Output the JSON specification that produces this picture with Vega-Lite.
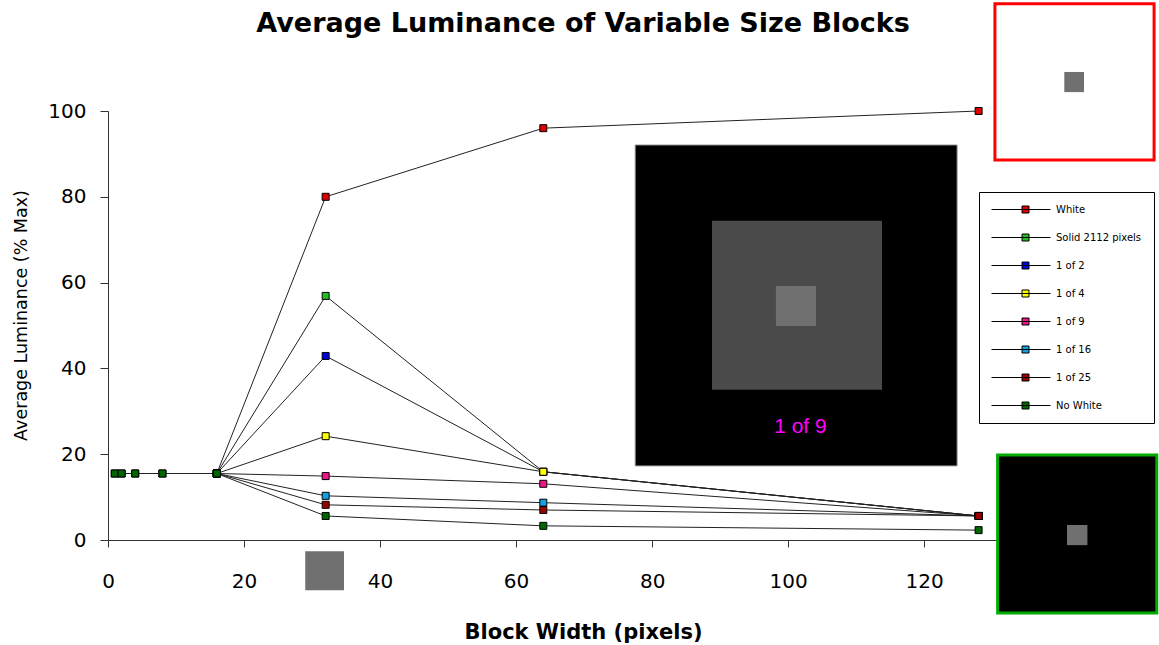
{
  "$schema": "https://vega.github.io/schema/vega-lite/v6.json",
  "autosize": {"type": "none"},
  "width": 891,
  "height": 429,
  "padding": {"left": 108, "top": 111, "right": 160, "bottom": 105},
  "background": "white",
  "config": {
    "view": {"stroke": null},
    "axis": {
      "domainColor": "#333",
      "tickColor": "#333",
      "labelFont": "DejaVu Sans",
      "labelColor": "black",
      "titleColor": "black",
      "grid": false
    }
  },
  "datasets": {
    "lum": [
      {"series": "White", "x": 1, "y": 15.5},
      {"series": "White", "x": 2, "y": 15.5},
      {"series": "White", "x": 4, "y": 15.5},
      {"series": "White", "x": 8, "y": 15.5},
      {"series": "White", "x": 16, "y": 15.5},
      {"series": "White", "x": 32, "y": 80.0},
      {"series": "White", "x": 64, "y": 96.0},
      {"series": "White", "x": 128, "y": 100.0},
      {"series": "Solid 2112 pixels", "x": 16, "y": 15.5},
      {"series": "Solid 2112 pixels", "x": 32, "y": 56.9},
      {"series": "Solid 2112 pixels", "x": 64, "y": 15.9},
      {"series": "Solid 2112 pixels", "x": 128, "y": 5.6},
      {"series": "1 of 2", "x": 16, "y": 15.5},
      {"series": "1 of 2", "x": 32, "y": 42.9},
      {"series": "1 of 2", "x": 64, "y": 15.9},
      {"series": "1 of 2", "x": 128, "y": 5.6},
      {"series": "1 of 4", "x": 16, "y": 15.5},
      {"series": "1 of 4", "x": 32, "y": 24.2},
      {"series": "1 of 4", "x": 64, "y": 15.9},
      {"series": "1 of 4", "x": 128, "y": 5.6},
      {"series": "1 of 9", "x": 16, "y": 15.5},
      {"series": "1 of 9", "x": 32, "y": 14.9},
      {"series": "1 of 9", "x": 64, "y": 13.1},
      {"series": "1 of 9", "x": 128, "y": 5.6},
      {"series": "1 of 16", "x": 16, "y": 15.5},
      {"series": "1 of 16", "x": 32, "y": 10.3},
      {"series": "1 of 16", "x": 64, "y": 8.7},
      {"series": "1 of 16", "x": 128, "y": 5.6},
      {"series": "1 of 25", "x": 16, "y": 15.5},
      {"series": "1 of 25", "x": 32, "y": 8.2},
      {"series": "1 of 25", "x": 64, "y": 7.0},
      {"series": "1 of 25", "x": 128, "y": 5.6},
      {"series": "No White", "x": 1, "y": 15.5},
      {"series": "No White", "x": 2, "y": 15.5},
      {"series": "No White", "x": 4, "y": 15.5},
      {"series": "No White", "x": 8, "y": 15.5},
      {"series": "No White", "x": 16, "y": 15.5},
      {"series": "No White", "x": 32, "y": 5.6},
      {"series": "No White", "x": 64, "y": 3.3},
      {"series": "No White", "x": 128, "y": 2.3}
    ]
  },
  "layer": [
    {
      "data": {"name": "lum"},
      "mark": {"type": "line", "color": "#222", "strokeWidth": 1},
      "encoding": {
        "x": {
          "field": "x", "type": "quantitative",
          "scale": {"domain": [0, 131], "nice": false},
          "axis": {
            "values": [0, 20, 40, 60, 80, 100, 120],
            "title": "Block Width (pixels)",
            "titleFont": "DejaVu Sans",
            "titleFontSize": 21,
            "titleFontWeight": "bold",
            "titleBaseline": "alphabetic",
            "titleX": 475,
            "titleY": 98,
            "labelFontSize": 20,
            "labelPadding": 24,
            "labelFlush": false,
            "tickSize": 7,
            "labelBaseline": "top"
          }
        },
        "y": {
          "field": "y", "type": "quantitative",
          "scale": {"domain": [0, 100], "nice": false},
          "axis": {
            "values": [0, 20, 40, 60, 80, 100],
            "title": "Average Luminance (% Max)",
            "titleFont": "DejaVu Sans",
            "titleFontSize": 17.5,
            "titleFontWeight": "normal",
            "titleAngle": -90,
            "titleBaseline": "alphabetic",
            "titleAlign": "center",
            "titleX": -82,
            "titleY": 204,
            "labelFontSize": 20,
            "labelPadding": 14,
            "labelFlush": false,
            "tickSize": 8
          }
        },
        "detail": {"field": "series"},
        "order": {"field": "x", "type": "quantitative"}
      }
    },
    {
      "data": {"name": "lum"},
      "mark": {"type": "point", "shape": "square", "filled": true, "size": 49, "stroke": "black", "strokeWidth": 1, "opacity": 1},
      "encoding": {
        "x": {"field": "x", "type": "quantitative", "scale": {"domain": [0, 131], "nice": false}},
        "y": {"field": "y", "type": "quantitative", "scale": {"domain": [0, 100], "nice": false}},
        "color": {
          "field": "series", "type": "nominal",
          "scale": {
            "domain": ["White", "Solid 2112 pixels", "1 of 2", "1 of 4", "1 of 9", "1 of 16", "1 of 25", "No White"],
            "range": ["#dd0000", "#22bb22", "#0000dd", "#ffff00", "#ee1488", "#11a0e0", "#990000", "#006600"]
          },
          "legend": {
            "title": null,
            "orient": "none",
            "legendX": 871,
            "legendY": 81,
            "strokeColor": "black",
            "fillColor": "white",
            "padding": 12,
            "symbolType": "M-1,0H10.8M5.1,-0.7H6.5V0.7H5.1Z",
            "symbolSize": 100,
            "symbolStrokeColor": "black",
            "symbolStrokeWidth": 1,
            "symbolOpacity": 1,
            "labelFont": "DejaVu Sans",
            "labelFontSize": 10,
            "labelColor": "black",
            "labelOffset": 54,
            "rowPadding": 17,
            "labelLimit": 200,
            "encode": {
              "symbols": {"update": {"stroke": {"value": "black"}, "strokeWidth": {"value": 1}}}
            }
          }
        }
      }
    },
    {
      "data": {"values": [{}]},
      "mark": {"type": "text", "text": "Average Luminance of Variable Size Blocks", "color": "black", "font": "DejaVu Sans", "fontSize": 27, "fontWeight": "bold", "align": "center", "baseline": "alphabetic"},
      "encoding": {
        "x": {"datum": 69.85, "type": "quantitative", "scale": {"domain": [0, 131], "nice": false}},
        "y": {"datum": 118.4, "type": "quantitative", "scale": {"domain": [0, 100], "nice": false}}
      }
    },
    {
      "data": {"values": [{}]},
      "mark": {"type": "rect", "fill": "black", "stroke": "#aaaaaa", "strokeWidth": 1},
      "encoding": {
        "x": {"datum": 77.5, "type": "quantitative", "scale": {"domain": [0, 131], "nice": false}},
        "x2": {"datum": 124.85},
        "y": {"datum": 92.1, "type": "quantitative", "scale": {"domain": [0, 100], "nice": false}},
        "y2": {"datum": 17.25}
      }
    },
    {
      "data": {"values": [{}]},
      "mark": {"type": "rect", "fill": "#4a4a4a"},
      "encoding": {
        "x": {"datum": 88.8, "type": "quantitative", "scale": {"domain": [0, 131], "nice": false}},
        "x2": {"datum": 113.8},
        "y": {"datum": 74.4, "type": "quantitative", "scale": {"domain": [0, 100], "nice": false}},
        "y2": {"datum": 35.0}
      }
    },
    {
      "data": {"values": [{}]},
      "mark": {"type": "rect", "fill": "#707070"},
      "encoding": {
        "x": {"datum": 98.2, "type": "quantitative", "scale": {"domain": [0, 131], "nice": false}},
        "x2": {"datum": 104.1},
        "y": {"datum": 59.2, "type": "quantitative", "scale": {"domain": [0, 100], "nice": false}},
        "y2": {"datum": 49.9}
      }
    },
    {
      "data": {"values": [{}]},
      "mark": {"type": "text", "text": "1 of 9", "color": "#ff00ff", "font": "Liberation Sans", "fontSize": 21, "align": "center", "baseline": "middle"},
      "encoding": {
        "x": {"datum": 101.8, "type": "quantitative", "scale": {"domain": [0, 131], "nice": false}},
        "y": {"datum": 26.3, "type": "quantitative", "scale": {"domain": [0, 100], "nice": false}}
      }
    },
    {
      "data": {"values": [{}]},
      "mark": {"type": "rect", "fill": "white", "stroke": "#ff0000", "strokeWidth": 3},
      "encoding": {
        "x": {"datum": 130.4, "type": "quantitative", "scale": {"domain": [0, 131], "nice": false}},
        "x2": {"datum": 153.8},
        "y": {"datum": 125.0, "type": "quantitative", "scale": {"domain": [0, 100], "nice": false}},
        "y2": {"datum": 88.6}
      }
    },
    {
      "data": {"values": [{}]},
      "mark": {"type": "rect", "fill": "#707070"},
      "encoding": {
        "x": {"datum": 140.6, "type": "quantitative", "scale": {"domain": [0, 131], "nice": false}},
        "x2": {"datum": 143.5},
        "y": {"datum": 109.1, "type": "quantitative", "scale": {"domain": [0, 100], "nice": false}},
        "y2": {"datum": 104.4}
      }
    },
    {
      "data": {"values": [{}]},
      "mark": {"type": "rect", "fill": "black", "stroke": "#00aa00", "strokeWidth": 3},
      "encoding": {
        "x": {"datum": 130.8, "type": "quantitative", "scale": {"domain": [0, 131], "nice": false}},
        "x2": {"datum": 154.2},
        "y": {"datum": 19.8, "type": "quantitative", "scale": {"domain": [0, 100], "nice": false}},
        "y2": {"datum": -17.0}
      }
    },
    {
      "data": {"values": [{}]},
      "mark": {"type": "rect", "fill": "#707070"},
      "encoding": {
        "x": {"datum": 141.0, "type": "quantitative", "scale": {"domain": [0, 131], "nice": false}},
        "x2": {"datum": 144.0},
        "y": {"datum": 3.5, "type": "quantitative", "scale": {"domain": [0, 100], "nice": false}},
        "y2": {"datum": -1.2}
      }
    },
    {
      "data": {"values": [{}]},
      "mark": {"type": "rect", "fill": "#707070"},
      "encoding": {
        "x": {"datum": 29.0, "type": "quantitative", "scale": {"domain": [0, 131], "nice": false}},
        "x2": {"datum": 34.7},
        "y": {"datum": -2.6, "type": "quantitative", "scale": {"domain": [0, 100], "nice": false}},
        "y2": {"datum": -11.7}
      }
    }
  ]
}
